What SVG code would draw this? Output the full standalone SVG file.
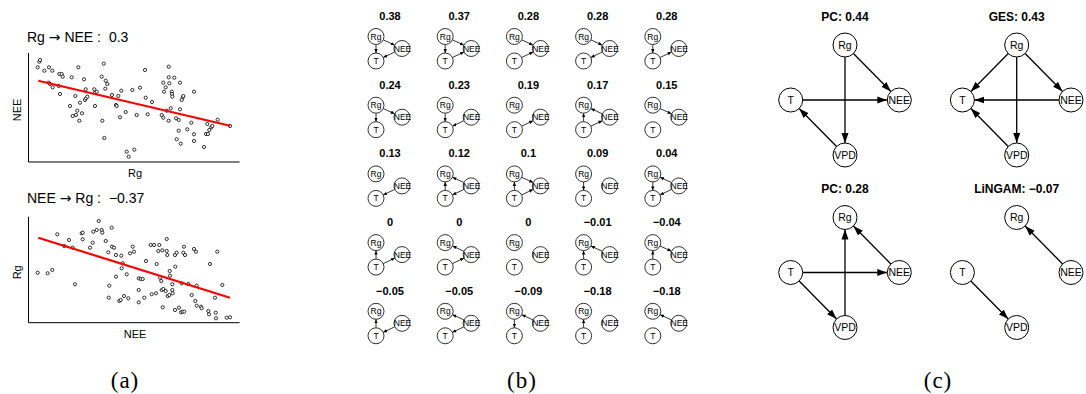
<svg xmlns="http://www.w3.org/2000/svg" width="1086" height="394" viewBox="0 0 1086 394">
<style>
.pt{fill:#fff;stroke:#000;stroke-width:0.8}
.ax{stroke:#000;stroke-width:1;fill:none}
.fit{stroke:#f00;stroke-width:2.2}
.at{font-family:"Liberation Sans",Arial,sans-serif;font-size:14px}
.arr{font-family:"DejaVu Sans",sans-serif;font-size:14px}
.al{font-family:"Liberation Sans",Arial,sans-serif;font-size:11px;text-anchor:middle}
.sn{fill:#fff;stroke:#000;stroke-width:0.8}
.sl{font-family:"Liberation Sans",Arial,sans-serif;font-size:8.5px;text-anchor:middle}
.se{stroke:#000;stroke-width:0.8;fill:none;marker-end:url(#sa)}
.st{font-family:"Liberation Sans",Arial,sans-serif;font-weight:bold;font-size:11px;text-anchor:middle}
.bn{fill:#fff;stroke:#000;stroke-width:1}
.bl{font-family:"Liberation Sans",Arial,sans-serif;font-size:10.5px;text-anchor:middle}
.be{stroke:#000;stroke-width:1.3;fill:none;marker-end:url(#ba)}
.bt{font-family:"Liberation Sans",Arial,sans-serif;font-weight:bold;font-size:12px;text-anchor:middle}
.cap{font-family:"Liberation Serif","Times New Roman",serif;font-size:23px;text-anchor:middle;letter-spacing:1px}
</style>
<defs>
<marker id="sa" markerWidth="4" markerHeight="4" refX="4" refY="2" orient="auto" markerUnits="userSpaceOnUse"><path d="M0,0.3 L4,2 L0,3.7 z" fill="#000"/></marker>
<marker id="ba" markerWidth="10" markerHeight="8" refX="10" refY="4" orient="auto" markerUnits="userSpaceOnUse"><path d="M0,0.5 L10,4 L0,7.5 z" fill="#000"/></marker>
</defs>
<rect width="1086" height="394" fill="#fff"/>

<!-- Panel (a) top -->
<g id="a-top">
<text class="at" x="27" y="42.3">Rg <tspan class="arr">→</tspan> NEE : <tspan dx="4">0.3</tspan></text>
<path class="ax" d="M28.5,53 V162 H239.5"/>
<text class="al" x="135" y="176.5">Rg</text>
<text class="al" transform="translate(20.5,110) rotate(-90)">NEE</text>
<g id="a-top-points">
<circle class="pt" cx="37.7" cy="67.3" r="1.6"/><circle class="pt" cx="39.3" cy="61.7" r="1.6"/><circle class="pt" cx="40" cy="60" r="1.6"/><circle class="pt" cx="44.3" cy="70.7" r="1.6"/><circle class="pt" cx="49" cy="67.3" r="1.6"/><circle class="pt" cx="52.3" cy="70.7" r="1.6"/><circle class="pt" cx="48.7" cy="82.7" r="1.6"/><circle class="pt" cx="50" cy="84" r="1.6"/><circle class="pt" cx="52.7" cy="87.3" r="1.6"/><circle class="pt" cx="58.7" cy="86" r="1.6"/><circle class="pt" cx="60" cy="94" r="1.6"/><circle class="pt" cx="59.3" cy="74" r="1.6"/><circle class="pt" cx="61.7" cy="74" r="1.6"/><circle class="pt" cx="62.7" cy="76.7" r="1.6"/><circle class="pt" cx="71.7" cy="77.3" r="1.6"/><circle class="pt" cx="78.3" cy="67.3" r="1.6"/><circle class="pt" cx="84" cy="79.3" r="1.6"/><circle class="pt" cx="70" cy="106" r="1.6"/><circle class="pt" cx="72.7" cy="116" r="1.6"/><circle class="pt" cx="76" cy="115" r="1.6"/><circle class="pt" cx="77.3" cy="110.7" r="1.6"/><circle class="pt" cx="80" cy="102.7" r="1.6"/><circle class="pt" cx="79.3" cy="120.7" r="1.6"/><circle class="pt" cx="82" cy="113.3" r="1.6"/><circle class="pt" cx="75.3" cy="96" r="1.6"/><circle class="pt" cx="85" cy="100" r="1.6"/><circle class="pt" cx="86" cy="98.3" r="1.6"/><circle class="pt" cx="87.3" cy="96.7" r="1.6"/><circle class="pt" cx="85.7" cy="89.3" r="1.6"/><circle class="pt" cx="94.3" cy="89.3" r="1.6"/><circle class="pt" cx="95" cy="92.7" r="1.6"/><circle class="pt" cx="96.7" cy="91.7" r="1.6"/><circle class="pt" cx="95" cy="106" r="1.6"/><circle class="pt" cx="102.3" cy="120.7" r="1.6"/><circle class="pt" cx="104.3" cy="138" r="1.6"/><circle class="pt" cx="101.7" cy="76.7" r="1.6"/><circle class="pt" cx="103.7" cy="63.7" r="1.6"/><circle class="pt" cx="105.7" cy="80.7" r="1.6"/><circle class="pt" cx="107.3" cy="84" r="1.6"/><circle class="pt" cx="105.3" cy="88.7" r="1.6"/><circle class="pt" cx="112" cy="95" r="1.6"/><circle class="pt" cx="116" cy="105" r="1.6"/><circle class="pt" cx="116.7" cy="106" r="1.6"/><circle class="pt" cx="118.3" cy="96" r="1.6"/><circle class="pt" cx="120" cy="117.3" r="1.6"/><circle class="pt" cx="121.3" cy="90.7" r="1.6"/><circle class="pt" cx="125.7" cy="112" r="1.6"/><circle class="pt" cx="126.7" cy="151.7" r="1.6"/><circle class="pt" cx="128.7" cy="156.7" r="1.6"/><circle class="pt" cx="134.3" cy="149.7" r="1.6"/><circle class="pt" cx="132.3" cy="90" r="1.6"/><circle class="pt" cx="136.7" cy="115" r="1.6"/><circle class="pt" cx="140" cy="87.7" r="1.6"/><circle class="pt" cx="145" cy="70" r="1.6"/><circle class="pt" cx="145.7" cy="97.7" r="1.6"/><circle class="pt" cx="147.7" cy="114.3" r="1.6"/><circle class="pt" cx="152" cy="102" r="1.6"/><circle class="pt" cx="161.7" cy="115" r="1.6"/><circle class="pt" cx="163.3" cy="117.7" r="1.6"/><circle class="pt" cx="163.3" cy="82.7" r="1.6"/><circle class="pt" cx="164" cy="91.7" r="1.6"/><circle class="pt" cx="165.7" cy="87.3" r="1.6"/><circle class="pt" cx="166.7" cy="110.7" r="1.6"/><circle class="pt" cx="168.7" cy="66.7" r="1.6"/><circle class="pt" cx="168.7" cy="77.3" r="1.6"/><circle class="pt" cx="169.3" cy="83.3" r="1.6"/><circle class="pt" cx="168.7" cy="120.7" r="1.6"/><circle class="pt" cx="170.7" cy="108.3" r="1.6"/><circle class="pt" cx="171.7" cy="91.7" r="1.6"/><circle class="pt" cx="172" cy="94" r="1.6"/><circle class="pt" cx="172.3" cy="96.7" r="1.6"/><circle class="pt" cx="174.3" cy="77.7" r="1.6"/><circle class="pt" cx="176" cy="118.3" r="1.6"/><circle class="pt" cx="178.7" cy="120" r="1.6"/><circle class="pt" cx="180" cy="82.7" r="1.6"/><circle class="pt" cx="180" cy="109.3" r="1.6"/><circle class="pt" cx="181.7" cy="100" r="1.6"/><circle class="pt" cx="182.7" cy="97.3" r="1.6"/><circle class="pt" cx="183.3" cy="96" r="1.6"/><circle class="pt" cx="178.7" cy="130.7" r="1.6"/><circle class="pt" cx="176.7" cy="139.3" r="1.6"/><circle class="pt" cx="180.7" cy="143.7" r="1.6"/><circle class="pt" cx="187.3" cy="129.3" r="1.6"/><circle class="pt" cx="191.3" cy="122.7" r="1.6"/><circle class="pt" cx="194" cy="91.7" r="1.6"/><circle class="pt" cx="194" cy="134.3" r="1.6"/><circle class="pt" cx="194" cy="141" r="1.6"/><circle class="pt" cx="204" cy="147" r="1.6"/><circle class="pt" cx="206" cy="134" r="1.6"/><circle class="pt" cx="207.3" cy="124" r="1.6"/><circle class="pt" cx="208" cy="134" r="1.6"/><circle class="pt" cx="209.3" cy="130" r="1.6"/><circle class="pt" cx="211.3" cy="127.3" r="1.6"/><circle class="pt" cx="212.3" cy="126" r="1.6"/><circle class="pt" cx="217.7" cy="119.7" r="1.6"/><circle class="pt" cx="230" cy="126" r="1.6"/>
</g>
<line class="fit" x1="38.3" y1="80.7" x2="230" y2="125.7"/>
</g>

<!-- Panel (a) bottom -->
<g id="a-bottom">
<text class="at" x="27" y="203">NEE <tspan class="arr">→</tspan> Rg : <tspan dx="4">−0.37</tspan></text>
<path class="ax" d="M28.5,216.7 V322.7 H239.5"/>
<text class="al" x="135" y="337.5">NEE</text>
<text class="al" transform="translate(20.5,272.3) rotate(-90)">Rg</text>
<g id="a-bottom-points">
<circle class="pt" cx="37.7" cy="272.7" r="1.6"/><circle class="pt" cx="47.7" cy="273.3" r="1.6"/><circle class="pt" cx="52.3" cy="270" r="1.6"/><circle class="pt" cx="57.3" cy="234.3" r="1.6"/><circle class="pt" cx="69" cy="240" r="1.6"/><circle class="pt" cx="64.3" cy="246" r="1.6"/><circle class="pt" cx="72.7" cy="247.7" r="1.6"/><circle class="pt" cx="75" cy="284.3" r="1.6"/><circle class="pt" cx="81.7" cy="233.3" r="1.6"/><circle class="pt" cx="82.7" cy="232.7" r="1.6"/><circle class="pt" cx="82.7" cy="239.3" r="1.6"/><circle class="pt" cx="90" cy="247.7" r="1.6"/><circle class="pt" cx="92.7" cy="242.7" r="1.6"/><circle class="pt" cx="93.3" cy="231.7" r="1.6"/><circle class="pt" cx="96.7" cy="230" r="1.6"/><circle class="pt" cx="98.7" cy="221" r="1.6"/><circle class="pt" cx="101.7" cy="230" r="1.6"/><circle class="pt" cx="102.3" cy="232.7" r="1.6"/><circle class="pt" cx="105.7" cy="241" r="1.6"/><circle class="pt" cx="111.7" cy="227.7" r="1.6"/><circle class="pt" cx="108.3" cy="252.3" r="1.6"/><circle class="pt" cx="109.3" cy="285.7" r="1.6"/><circle class="pt" cx="108.7" cy="297.7" r="1.6"/><circle class="pt" cx="112" cy="246.7" r="1.6"/><circle class="pt" cx="114" cy="247.7" r="1.6"/><circle class="pt" cx="116" cy="255" r="1.6"/><circle class="pt" cx="116" cy="276.7" r="1.6"/><circle class="pt" cx="119.3" cy="301" r="1.6"/><circle class="pt" cx="120.7" cy="300" r="1.6"/><circle class="pt" cx="121.3" cy="255.7" r="1.6"/><circle class="pt" cx="121.7" cy="268.3" r="1.6"/><circle class="pt" cx="122.7" cy="263.3" r="1.6"/><circle class="pt" cx="124" cy="296" r="1.6"/><circle class="pt" cx="126.7" cy="274.3" r="1.6"/><circle class="pt" cx="128.3" cy="298.3" r="1.6"/><circle class="pt" cx="130" cy="253.3" r="1.6"/><circle class="pt" cx="132.7" cy="246.7" r="1.6"/><circle class="pt" cx="134" cy="251.7" r="1.6"/><circle class="pt" cx="138.7" cy="278.3" r="1.6"/><circle class="pt" cx="138.7" cy="290" r="1.6"/><circle class="pt" cx="138.7" cy="302.3" r="1.6"/><circle class="pt" cx="140.7" cy="279" r="1.6"/><circle class="pt" cx="142.7" cy="279" r="1.6"/><circle class="pt" cx="144.3" cy="297.7" r="1.6"/><circle class="pt" cx="146" cy="261" r="1.6"/><circle class="pt" cx="150.7" cy="245" r="1.6"/><circle class="pt" cx="151.7" cy="294.3" r="1.6"/><circle class="pt" cx="154" cy="245" r="1.6"/><circle class="pt" cx="156" cy="293.3" r="1.6"/><circle class="pt" cx="156.7" cy="264" r="1.6"/><circle class="pt" cx="158.3" cy="251" r="1.6"/><circle class="pt" cx="159.3" cy="245" r="1.6"/><circle class="pt" cx="160" cy="277.7" r="1.6"/><circle class="pt" cx="161.3" cy="281" r="1.6"/><circle class="pt" cx="162.3" cy="250.3" r="1.6"/><circle class="pt" cx="161.7" cy="290" r="1.6"/><circle class="pt" cx="163.3" cy="289" r="1.6"/><circle class="pt" cx="162.7" cy="307.3" r="1.6"/><circle class="pt" cx="165.7" cy="291" r="1.6"/><circle class="pt" cx="166.7" cy="239" r="1.6"/><circle class="pt" cx="166.7" cy="251" r="1.6"/><circle class="pt" cx="167.3" cy="255" r="1.6"/><circle class="pt" cx="167.7" cy="296" r="1.6"/><circle class="pt" cx="169.3" cy="295" r="1.6"/><circle class="pt" cx="169.7" cy="271" r="1.6"/><circle class="pt" cx="170" cy="275.7" r="1.6"/><circle class="pt" cx="172.3" cy="284.3" r="1.6"/><circle class="pt" cx="172.3" cy="290" r="1.6"/><circle class="pt" cx="172.7" cy="293.3" r="1.6"/><circle class="pt" cx="175.3" cy="266.7" r="1.6"/><circle class="pt" cx="175" cy="310" r="1.6"/><circle class="pt" cx="175" cy="255" r="1.6"/><circle class="pt" cx="176.7" cy="252.7" r="1.6"/><circle class="pt" cx="179" cy="307.7" r="1.6"/><circle class="pt" cx="181" cy="312.3" r="1.6"/><circle class="pt" cx="181.7" cy="283.3" r="1.6"/><circle class="pt" cx="182.7" cy="311.7" r="1.6"/><circle class="pt" cx="184" cy="246.7" r="1.6"/><circle class="pt" cx="184.3" cy="311.7" r="1.6"/><circle class="pt" cx="183.3" cy="252.7" r="1.6"/><circle class="pt" cx="185" cy="255" r="1.6"/><circle class="pt" cx="188.3" cy="284" r="1.6"/><circle class="pt" cx="191.7" cy="295" r="1.6"/><circle class="pt" cx="194" cy="249" r="1.6"/><circle class="pt" cx="195.3" cy="301" r="1.6"/><circle class="pt" cx="196" cy="251.7" r="1.6"/><circle class="pt" cx="196.7" cy="285.7" r="1.6"/><circle class="pt" cx="196.7" cy="305.7" r="1.6"/><circle class="pt" cx="201" cy="306.7" r="1.6"/><circle class="pt" cx="201.7" cy="308.3" r="1.6"/><circle class="pt" cx="208.3" cy="311" r="1.6"/><circle class="pt" cx="209" cy="314.3" r="1.6"/><circle class="pt" cx="210" cy="264" r="1.6"/><circle class="pt" cx="215.7" cy="312.7" r="1.6"/><circle class="pt" cx="216" cy="318.3" r="1.6"/><circle class="pt" cx="215" cy="297.7" r="1.6"/><circle class="pt" cx="217.3" cy="251.7" r="1.6"/><circle class="pt" cx="222.3" cy="285" r="1.6"/><circle class="pt" cx="226.7" cy="317.7" r="1.6"/><circle class="pt" cx="230" cy="317.3" r="1.6"/>
</g>
<line class="fit" x1="38.3" y1="237.7" x2="230" y2="297.7"/>
</g>

<!-- Panel (b): small graphs. Local coords: Rg(0,0), NEE(26,12), T(0,24.5) -->
<defs>
<g id="snodes">
<circle class="sn" cx="0" cy="0" r="8"/><text class="sl" x="0" y="3">Rg</text>
<circle class="sn" cx="26" cy="12" r="8"/><text class="sl" x="26.5" y="15">NEE</text>
<circle class="sn" cx="0" cy="24.5" r="8"/><text class="sl" x="0" y="27.5">T</text>
</g>
</defs>

<g id="b-r0c0" transform="translate(376,36.5)"><text class="st" x="14" y="-16.5">0.38</text><g class="edges"><path class="se" d="M0,8 L0,16.5"/><path class="se" d="M7.26,3.35 L18.74,8.65"/><path class="se" d="M18.79,15.47 L7.21,21.03"/></g><use href="#snodes"/></g>
<g id="b-r0c1" transform="translate(445.2,36.5)"><text class="st" x="14" y="-16.5">0.37</text><g class="edges"><path class="se" d="M0,8 L0,16.5"/><path class="se" d="M7.26,3.35 L18.74,8.65"/><path class="se" d="M7.21,21.03 L18.79,15.47"/></g><use href="#snodes"/></g>
<g id="b-r0c2" transform="translate(514.4,36.5)"><text class="st" x="14" y="-16.5">0.28</text><g class="edges"><path class="se" d="M7.26,3.35 L18.74,8.65"/><path class="se" d="M7.21,21.03 L18.79,15.47"/></g><use href="#snodes"/></g>
<g id="b-r0c3" transform="translate(583.6,36.5)"><text class="st" x="14" y="-16.5">0.28</text><g class="edges"><path class="se" d="M7.26,3.35 L18.74,8.65"/><path class="se" d="M18.79,15.47 L7.21,21.03"/></g><use href="#snodes"/></g>
<g id="b-r0c4" transform="translate(652.8,36.5)"><text class="st" x="14" y="-16.5">0.28</text><g class="edges"><path class="se" d="M0,8 L0,16.5"/><path class="se" d="M7.21,21.03 L18.79,15.47"/></g><use href="#snodes"/></g>

<g id="b-r1c0" transform="translate(376,105.2)"><text class="st" x="14" y="-16.5">0.24</text><g class="edges"><path class="se" d="M0,8 L0,16.5"/><path class="se" d="M7.26,3.35 L18.74,8.65"/></g><use href="#snodes"/></g>
<g id="b-r1c1" transform="translate(445.2,105.2)"><text class="st" x="14" y="-16.5">0.23</text><g class="edges"><path class="se" d="M0,8 L0,16.5"/><path class="se" d="M18.79,15.47 L7.21,21.03"/></g><use href="#snodes"/></g>
<g id="b-r1c2" transform="translate(514.4,105.2)"><text class="st" x="14" y="-16.5">0.19</text><g class="edges"><path class="se" d="M7.21,21.03 L18.79,15.47"/></g><use href="#snodes"/></g>
<g id="b-r1c3" transform="translate(583.6,105.2)"><text class="st" x="14" y="-16.5">0.17</text><g class="edges"><path class="se" d="M0,16.5 L0,8"/><path class="se" d="M18.74,8.65 L7.26,3.35"/><path class="se" d="M7.21,21.03 L18.79,15.47"/></g><use href="#snodes"/></g>
<g id="b-r1c4" transform="translate(652.8,105.2)"><text class="st" x="14" y="-16.5">0.15</text><g class="edges"><path class="se" d="M7.26,3.35 L18.74,8.65"/></g><use href="#snodes"/></g>

<g id="b-r2c0" transform="translate(376,173.9)"><text class="st" x="14" y="-16.5">0.13</text><g class="edges"><path class="se" d="M18.79,15.47 L7.21,21.03"/></g><use href="#snodes"/></g>
<g id="b-r2c1" transform="translate(445.2,173.9)"><text class="st" x="14" y="-16.5">0.12</text><g class="edges"><path class="se" d="M0,16.5 L0,8"/><path class="se" d="M18.74,8.65 L7.26,3.35"/><path class="se" d="M18.79,15.47 L7.21,21.03"/></g><use href="#snodes"/></g>
<g id="b-r2c2" transform="translate(514.4,173.9)"><text class="st" x="14" y="-16.5">0.1</text><g class="edges"><path class="se" d="M0,16.5 L0,8"/><path class="se" d="M7.26,3.35 L18.74,8.65"/><path class="se" d="M7.21,21.03 L18.79,15.47"/></g><use href="#snodes"/></g>
<g id="b-r2c3" transform="translate(583.6,173.9)"><text class="st" x="14" y="-16.5">0.09</text><g class="edges"><path class="se" d="M0,8 L0,16.5"/></g><use href="#snodes"/></g>
<g id="b-r2c4" transform="translate(652.8,173.9)"><text class="st" x="14" y="-16.5">0.04</text><g class="edges"><path class="se" d="M0,8 L0,16.5"/><path class="se" d="M18.74,8.65 L7.26,3.35"/><path class="se" d="M18.79,15.47 L7.21,21.03"/></g><use href="#snodes"/></g>

<g id="b-r3c0" transform="translate(376,242.6)"><text class="st" x="14" y="-16.5">0</text><g class="edges"><path class="se" d="M0,16.5 L0,8"/><path class="se" d="M7.21,21.03 L18.79,15.47"/></g><use href="#snodes"/></g>
<g id="b-r3c1" transform="translate(445.2,242.6)"><text class="st" x="14" y="-16.5">0</text><g class="edges"><path class="se" d="M18.74,8.65 L7.26,3.35"/><path class="se" d="M7.21,21.03 L18.79,15.47"/></g><use href="#snodes"/></g>
<g id="b-r3c2" transform="translate(514.4,242.6)"><text class="st" x="14" y="-16.5">0</text><use href="#snodes"/></g>
<g id="b-r3c3" transform="translate(583.6,242.6)"><text class="st" x="14" y="-16.5">−0.01</text><g class="edges"><path class="se" d="M0,16.5 L0,8"/><path class="se" d="M18.74,8.65 L7.26,3.35"/></g><use href="#snodes"/></g>
<g id="b-r3c4" transform="translate(652.8,242.6)"><text class="st" x="14" y="-16.5">−0.04</text><g class="edges"><path class="se" d="M0,16.5 L0,8"/><path class="se" d="M7.26,3.35 L18.74,8.65"/></g><use href="#snodes"/></g>

<g id="b-r4c0" transform="translate(376,311.3)"><text class="st" x="14" y="-16.5">−0.05</text><g class="edges"><path class="se" d="M0,16.5 L0,8"/><path class="se" d="M18.79,15.47 L7.21,21.03"/></g><use href="#snodes"/></g>
<g id="b-r4c1" transform="translate(445.2,311.3)"><text class="st" x="14" y="-16.5">−0.05</text><g class="edges"><path class="se" d="M18.74,8.65 L7.26,3.35"/><path class="se" d="M18.79,15.47 L7.21,21.03"/></g><use href="#snodes"/></g>
<g id="b-r4c2" transform="translate(514.4,311.3)"><text class="st" x="14" y="-16.5">−0.09</text><g class="edges"><path class="se" d="M0,8 L0,16.5"/><path class="se" d="M18.74,8.65 L7.26,3.35"/></g><use href="#snodes"/></g>
<g id="b-r4c3" transform="translate(583.6,311.3)"><text class="st" x="14" y="-16.5">−0.18</text><g class="edges"><path class="se" d="M0,16.5 L0,8"/></g><use href="#snodes"/></g>
<g id="b-r4c4" transform="translate(652.8,311.3)"><text class="st" x="14" y="-16.5">−0.18</text><g class="edges"><path class="se" d="M18.74,8.65 L7.26,3.35"/></g><use href="#snodes"/></g>

<!-- Panel (c): local coords Rg(0,0), T(-54.3,55), NEE(54.3,55), VPD(0,110) -->
<defs>
<g id="bnodes">
<circle class="bn" cx="0" cy="0" r="12"/><text class="bl" x="0" y="3.8">Rg</text>
<circle class="bn" cx="-54.3" cy="55" r="12"/><text class="bl" x="-54.3" y="58.8">T</text>
<circle class="bn" cx="54.3" cy="55" r="12"/><text class="bl" x="54.3" y="58.8">NEE</text>
<circle class="bn" cx="0" cy="110" r="12"/><text class="bl" x="0" y="113.8">VPD</text>
</g>
</defs>

<g id="c-pc1" transform="translate(845,45)">
<text class="bt" x="0" y="-24">PC: 0.44</text>
<g class="edges">
<path class="be" d="M8.43,8.54 L45.87,46.46"/>
<path class="be" d="M-42.3,55 L42.3,55"/>
<path class="be" d="M0,12 L0,98"/>
<path class="be" d="M-8.43,101.46 L-45.87,63.54"/>
</g>
<use href="#bnodes"/>
</g>

<g id="c-ges" transform="translate(1016.7,45)">
<text class="bt" x="0" y="-24">GES: 0.43</text>
<g class="edges">
<path class="be" d="M-8.43,8.54 L-45.87,46.46"/>
<path class="be" d="M8.43,8.54 L45.87,46.46"/>
<path class="be" d="M42.3,55 L-42.3,55"/>
<path class="be" d="M0,12 L0,98"/>
<path class="be" d="M-8.43,101.46 L-45.87,63.54"/>
</g>
<use href="#bnodes"/>
</g>

<g id="c-pc2" transform="translate(845,217.5)">
<text class="bt" x="0" y="-25">PC: 0.28</text>
<g class="edges">
<path class="be" d="M45.87,46.46 L8.43,8.54"/>
<path class="be" d="M-42.3,55 L42.3,55"/>
<path class="be" d="M0,98 L0,12"/>
<path class="be" d="M-45.87,63.54 L-8.43,101.46"/>
</g>
<use href="#bnodes"/>
</g>

<g id="c-lingam" transform="translate(1016.7,217.5)">
<text class="bt" x="0" y="-25">LiNGAM: −0.07</text>
<g class="edges">
<path class="be" d="M45.87,46.46 L8.43,8.54"/>
<path class="be" d="M-45.87,63.54 L-8.43,101.46"/>
</g>
<use href="#bnodes"/>
</g>

<g id="captions">
<text class="cap" x="125" y="388">(a)</text>
<text class="cap" x="522" y="388">(b)</text>
<text class="cap" x="938" y="388">(c)</text>
</g>
</svg>
